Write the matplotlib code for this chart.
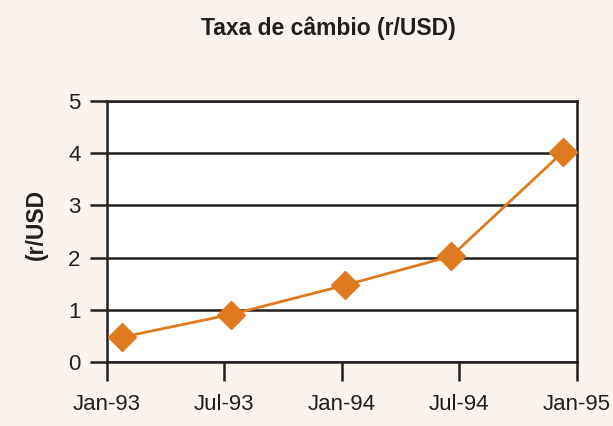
import matplotlib
matplotlib.use("Agg")
import matplotlib.pyplot as plt
from datetime import date

plt.rcParams['font.family'] = ['Liberation Sans', 'DejaVu Sans']

# Data
dates = [date(1993, 1, 25), date(1993, 7, 12), date(1994, 1, 5), date(1994, 6, 20), date(1994, 12, 10)]
rates = [0.48, 0.91, 1.47, 2.03, 4.02]
x_ticks = [date(1993, 1, 1), date(1993, 7, 1), date(1994, 1, 1), date(1994, 7, 1), date(1995, 1, 1)]
x_labels = ["Jan-93", "Jul-93", "Jan-94", "Jul-94", "Jan-95"]
y_ticks = [0, 1, 2, 3, 4, 5]

ink = "#231f20"
orange = "#e07a1f"

fig = plt.figure(figsize=(6.13, 4.26), dpi=100, facecolor="#fbf4ee")
ax = fig.add_axes([0.1746, 0.150, 0.7666, 0.613])
ax.set_facecolor("white")

for y in y_ticks:
    ax.axhline(y, color=ink, lw=1.8, zorder=1)

ax.plot(dates, rates, color=orange, lw=2, marker="D", markersize=14, zorder=3, clip_on=False)

ax.set_xlim(x_ticks[0], x_ticks[-1])
ax.set_ylim(0, 5)
ax.set_xticks(x_ticks)
ax.set_xticklabels(x_labels)
ax.set_yticks(y_ticks)

for s in ax.spines.values():
    s.set_color(ink)
    s.set_linewidth(1.8)

ax.tick_params(axis="x", direction="out", length=14, width=1.8, color=ink, labelsize=16, pad=9, labelcolor=ink)
ax.tick_params(axis="y", direction="out", length=12, width=1.8, color=ink, labelsize=16, pad=7, labelcolor=ink)

fig.text(0.535, 0.933, "Taxa de câmbio (r/USD)", ha="center", va="center", fontsize=16.5, fontweight="bold", color=ink)
fig.text(0.06, 0.472, "(r/USD", ha="center", va="center", rotation=90, fontsize=16.5, fontweight="bold", color=ink)

fig.savefig("out.png", dpi=100, facecolor=fig.get_facecolor())
